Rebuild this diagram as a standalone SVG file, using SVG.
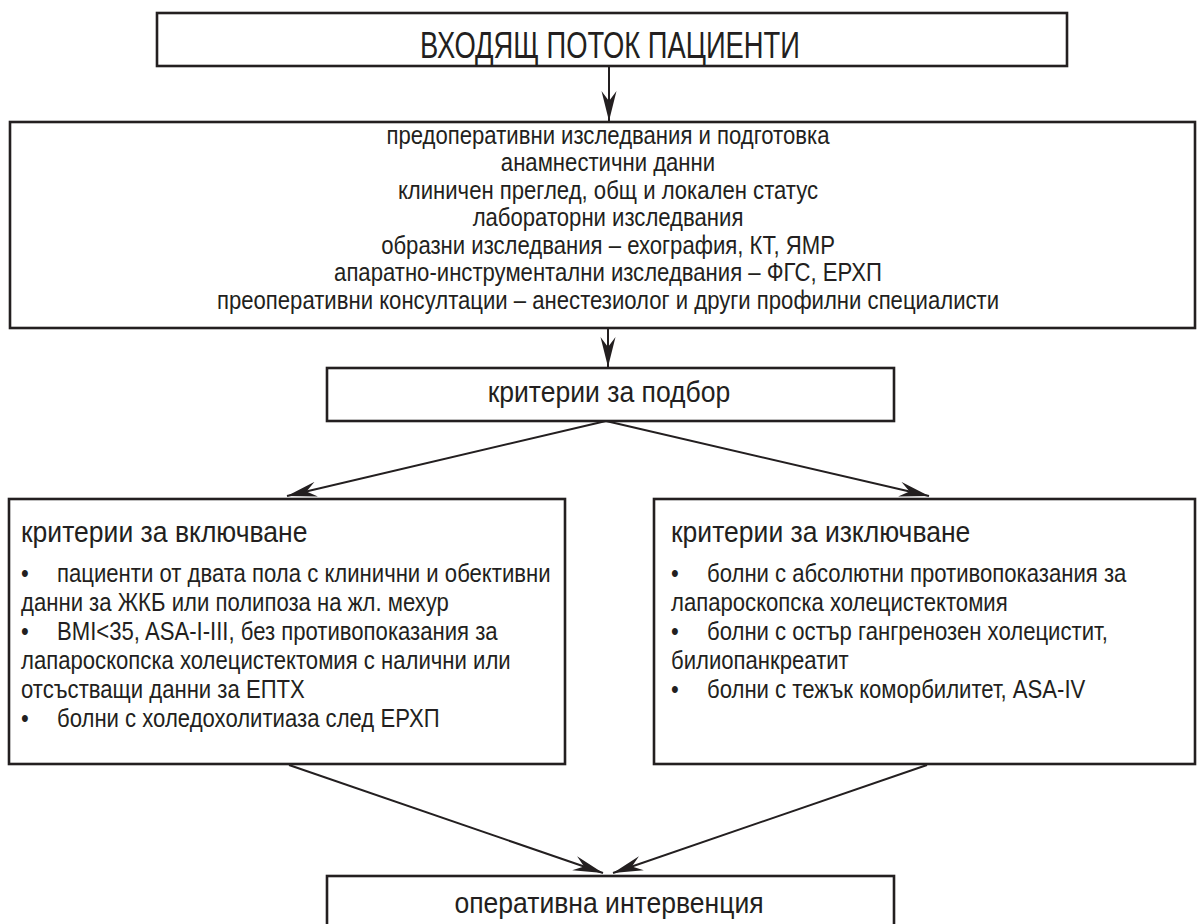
<svg xmlns="http://www.w3.org/2000/svg" width="1203" height="924" viewBox="0 0 1203 924">
  <style>
    .box { fill: #ffffff; stroke: #231f20; stroke-width: 2.6; }
    .link { fill: none; stroke: #231f20; stroke-width: 2; }
    text { font-family: "Liberation Sans", Arial, sans-serif; fill: #231f20; }
    .title { font-size: 36px; text-anchor: middle; }
    .head { font-size: 30px; }
    .mid { text-anchor: middle; }
    .body { font-size: 25px; }
  </style>
  <defs>
    <marker id="arrow" markerUnits="userSpaceOnUse" viewBox="-30 -8 31 16" refX="0" refY="0" markerWidth="31" markerHeight="16" orient="auto">
      <path d="M0,0 L-30,-7.5 L-20,0 L-30,7.5 Z" fill="#231f20"/>
    </marker>
  </defs>

  <rect width="1203" height="924" fill="#ffffff"/>

  <!-- connectors -->
  <g id="connectors">
    <line class="link" x1="609" y1="66" x2="609" y2="121" marker-end="url(#arrow)"/>
    <line class="link" x1="608" y1="328" x2="608" y2="367" marker-end="url(#arrow)"/>
    <line class="link" x1="606" y1="421" x2="287" y2="496" marker-end="url(#arrow)"/>
    <line class="link" x1="606" y1="421" x2="929" y2="496" marker-end="url(#arrow)"/>
    <line class="link" x1="289" y1="765" x2="603" y2="873" marker-end="url(#arrow)"/>
    <line class="link" x1="927" y1="765" x2="613" y2="873" marker-end="url(#arrow)"/>
  </g>

  <!-- incoming patient flow -->
  <g id="node-inflow">
    <rect class="box" x="157" y="13" width="910" height="53"/>
    <text class="title" x="610" y="58" textLength="380" lengthAdjust="spacingAndGlyphs">ВХОДЯЩ ПОТОК ПАЦИЕНТИ</text>
  </g>

  <!-- preoperative work-up -->
  <g id="node-workup">
    <rect class="box" x="10" y="122" width="1185" height="206"/>
    <g transform="translate(608,0) scale(0.885,1)">
      <text class="body mid" x="0" y="144">предоперативни изследвания и подготовка</text>
      <text class="body mid" x="0" y="171.5">анамнестични данни</text>
      <text class="body mid" x="0" y="199">клиничен преглед, общ и локален статус</text>
      <text class="body mid" x="0" y="226.5">лабораторни изследвания</text>
      <text class="body mid" x="0" y="254">образни изследвания – ехография, КТ, ЯМР</text>
      <text class="body mid" x="0" y="281.5">апаратно-инструментални изследвания – ФГС, ЕРХП</text>
      <text class="body mid" x="0" y="309">преоперативни консултации – анестезиолог и други профилни специалисти</text>
    </g>
  </g>

  <!-- selection criteria -->
  <g id="node-selection">
    <rect class="box" x="327" y="368" width="567" height="53"/>
    <g transform="translate(609,0) scale(0.885,1)">
      <text class="head mid" x="0" y="402">критерии за подбор</text>
    </g>
  </g>

  <!-- inclusion criteria -->
  <g id="node-inclusion">
    <rect class="box" x="9" y="499" width="556" height="265"/>
    <g transform="translate(21,0) scale(0.885,1)">
      <text class="head" x="0" y="542">критерии за включване</text>
      <text class="body" x="0" y="582">•</text>
      <text class="body" x="40.7" y="582">пациенти от двата пола с клинични и обективни</text>
      <text class="body" x="0" y="611">данни за ЖКБ или полипоза на жл. мехур</text>
      <text class="body" x="0" y="640">•</text>
      <text class="body" x="40.7" y="640">BMI&lt;35, ASA-I-III, без противопоказания за</text>
      <text class="body" x="0" y="669">лапароскопска холецистектомия с налични или</text>
      <text class="body" x="0" y="698">отсъстващи данни за ЕПТХ</text>
      <text class="body" x="0" y="727">•</text>
      <text class="body" x="40.7" y="727">болни с холедохолитиаза след ЕРХП</text>
    </g>
  </g>

  <!-- exclusion criteria -->
  <g id="node-exclusion">
    <rect class="box" x="654" y="499" width="541" height="265"/>
    <g transform="translate(671,0) scale(0.885,1)">
      <text class="head" x="0" y="542">критерии за изключване</text>
      <text class="body" x="0" y="582">•</text>
      <text class="body" x="40.7" y="582">болни с абсолютни противопоказания за</text>
      <text class="body" x="0" y="611">лапароскопска холецистектомия</text>
      <text class="body" x="0" y="640">•</text>
      <text class="body" x="40.7" y="640">болни с остър гангренозен холецистит,</text>
      <text class="body" x="0" y="669">билиопанкреатит</text>
      <text class="body" x="0" y="698">•</text>
      <text class="body" x="40.7" y="698">болни с тежък коморбилитет, ASA-IV</text>
    </g>
  </g>

  <!-- surgical intervention -->
  <g id="node-surgery">
    <rect class="box" x="327" y="876" width="567" height="60"/>
    <g transform="translate(609,0) scale(0.885,1)">
      <text class="head mid" x="0" y="913">оперативна интервенция</text>
    </g>
  </g>
</svg>
